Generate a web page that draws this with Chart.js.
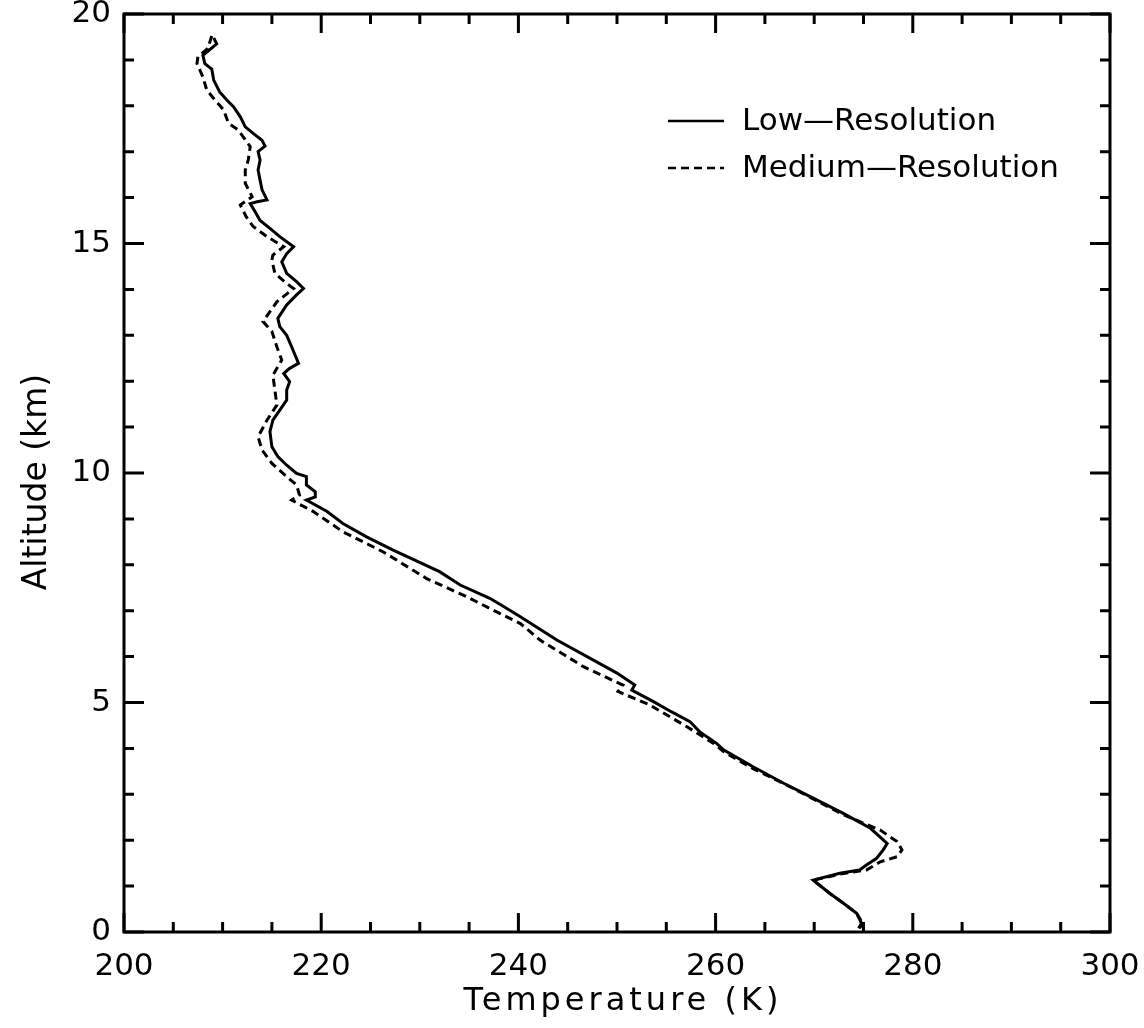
<!DOCTYPE html>
<html>
<head>
<meta charset="utf-8">
<script src="https://cdn.jsdelivr.net/npm/chart.js@4.4.1/dist/chart.umd.min.js"></script>
<style>
  html, body { margin: 0; padding: 0; background: #fff; }
  #wrap { width: 1144px; height: 1028px; }
</style>
</head>
<body>
<div id="wrap"><canvas id="myChart" width="1144" height="1028"></canvas></div>
<script>
// temperature (K) / altitude (km) pairs, top to bottom
const lowTemp = [209.1, 209.4, 208.0, 208.2, 208.9, 209.1, 209.7, 210.4, 211.1, 211.8, 212.3, 213.1, 214.0, 214.3, 213.6, 213.8, 213.6, 213.8, 214.0, 214.5, 213.5, 212.8, 213.3, 213.8, 214.8, 215.8, 217.2, 216.5, 216.0, 216.5, 217.5, 218.2, 217.5, 216.5, 215.6, 215.8, 216.5, 217.0, 217.7, 216.8, 216.2, 216.8, 216.5, 216.5, 215.8, 215.1, 214.8, 215.0, 215.6, 216.5, 217.5, 218.5, 218.5, 219.4, 219.4, 218.5, 220.6, 222.2, 224.6, 227.3, 232.0, 234.1, 237.1, 238.5, 240.2, 243.9, 250.0, 251.8, 251.5, 253.7, 255.5, 257.4, 258.4, 260.1, 260.8, 263.8, 266.9, 269.6, 273.0, 275.7, 277.4, 277.0, 276.3, 275.3, 274.6, 272.6, 269.9, 271.6, 273.0, 274.3, 274.8, 274.5];
const lowAlt = [19.48, 19.35, 19.10, 18.92, 18.80, 18.56, 18.30, 18.13, 17.98, 17.76, 17.54, 17.40, 17.25, 17.12, 17.00, 16.82, 16.60, 16.38, 16.17, 15.95, 15.91, 15.87, 15.69, 15.50, 15.33, 15.15, 14.93, 14.78, 14.60, 14.35, 14.17, 14.02, 13.88, 13.66, 13.37, 13.19, 13.00, 12.75, 12.39, 12.28, 12.17, 11.99, 11.81, 11.59, 11.37, 11.15, 10.90, 10.57, 10.36, 10.17, 9.99, 9.92, 9.74, 9.59, 9.48, 9.41, 9.16, 8.90, 8.61, 8.32, 7.85, 7.56, 7.27, 7.09, 6.87, 6.36, 5.64, 5.38, 5.27, 5.02, 4.80, 4.58, 4.36, 4.11, 3.97, 3.60, 3.24, 2.95, 2.58, 2.26, 1.93, 1.79, 1.60, 1.46, 1.35, 1.28, 1.13, 0.84, 0.62, 0.41, 0.19, 0.08];

const medTemp = [208.9, 208.5, 207.5, 207.4, 208.0, 208.4, 209.1, 210.1, 210.6, 211.6, 212.8, 212.6, 212.3, 212.3, 213.0, 211.8, 212.4, 213.1, 214.5, 216.2, 215.1, 215.0, 215.3, 216.5, 217.2, 215.5, 214.1, 215.0, 215.5, 216.0, 215.1, 215.3, 215.5, 214.5, 213.6, 214.0, 215.0, 216.5, 217.5, 217.8, 217.0, 219.2, 222.2, 226.3, 230.7, 234.8, 238.1, 240.2, 242.2, 246.6, 250.6, 250.1, 253.3, 257.1, 259.8, 260.8, 263.8, 267.5, 273.0, 276.7, 278.4, 278.9, 278.4, 276.7, 275.3, 272.6, 269.9, 271.6, 273.0, 274.3, 274.9, 274.6];
const medAlt = [19.52, 19.25, 19.07, 18.92, 18.63, 18.34, 18.16, 17.91, 17.62, 17.47, 17.11, 16.82, 16.60, 16.31, 16.02, 15.84, 15.58, 15.37, 15.15, 14.93, 14.75, 14.64, 14.35, 14.13, 14.02, 13.73, 13.30, 13.08, 12.75, 12.46, 12.13, 11.81, 11.48, 11.15, 10.79, 10.50, 10.21, 9.92, 9.74, 9.52, 9.41, 9.16, 8.72, 8.28, 7.70, 7.30, 6.94, 6.72, 6.36, 5.78, 5.38, 5.24, 4.95, 4.47, 4.11, 3.93, 3.56, 3.17, 2.55, 2.22, 1.97, 1.79, 1.64, 1.53, 1.35, 1.26, 1.13, 0.84, 0.62, 0.41, 0.19, 0.08];

const seriesNames = ["Low\u2014Resolution", "Medium\u2014Resolution"];
const xTitle = "Temperature (K)";
const yTitle = "Altitude (km)";

const toPoints = (xs, ys) => xs.map((v, i) => ({ x: v, y: ys[i] }));

Chart.defaults.font.family = "'DejaVu Sans', sans-serif";
Chart.defaults.color = "#000";

// box round the plot, inward ticks on all four sides, axis titles and the legend
const frame = {
  id: "frame",
  afterDraw(chart) {
    const { ctx, chartArea: a, scales } = chart;
    const x = scales.x, y = scales.y;
    ctx.save();
    ctx.strokeStyle = "#000";
    ctx.lineWidth = 3;
    ctx.strokeRect(a.left, a.top, a.right - a.left, a.bottom - a.top);
    ctx.beginPath();
    for (let v = x.min; v <= x.max; v += 5) {
      const px = x.getPixelForValue(v);
      const len = v % 20 === 0 ? 19 : 10;
      ctx.moveTo(px, a.bottom); ctx.lineTo(px, a.bottom - len);
      ctx.moveTo(px, a.top); ctx.lineTo(px, a.top + len);
    }
    for (let v = y.min; v <= y.max; v += 1) {
      const py = y.getPixelForValue(v);
      const len = v % 5 === 0 ? 20 : 10;
      ctx.moveTo(a.left, py); ctx.lineTo(a.left + len, py);
      ctx.moveTo(a.right, py); ctx.lineTo(a.right - len, py);
    }
    ctx.stroke();

    ctx.fillStyle = "#000";
    ctx.textAlign = "center";
    ctx.textBaseline = "middle";
    // x title, the original font is quite wide so space it out a bit
    ctx.font = "32px 'DejaVu Sans'";
    if ("letterSpacing" in ctx) ctx.letterSpacing = "4px";
    ctx.fillText(xTitle, 623, 1002);
    if ("letterSpacing" in ctx) ctx.letterSpacing = "0px";
    ctx.save();
    ctx.translate(37, 482);
    ctx.rotate(-Math.PI / 2);
    ctx.font = "33px 'DejaVu Sans'";
    ctx.fillText(yTitle, 0, 0);
    ctx.restore();

    // legend
    ctx.textAlign = "left";
    ctx.font = "31px 'DejaVu Sans'";
    chart.data.datasets.forEach((ds, i) => {
      const ly = 121 + i * 47;
      ctx.beginPath();
      ctx.lineWidth = 2.5;
      ctx.setLineDash(ds.borderDash || []);
      ctx.moveTo(668, ly); ctx.lineTo(724, ly);
      ctx.stroke();
      ctx.setLineDash([]);
      ctx.fillText(ds.label, 742, ly + 1);
    });
    ctx.restore();
  }
};

new Chart(document.getElementById("myChart"), {
  type: "scatter",
  data: {
    datasets: [
      {
        label: seriesNames[0],
        data: toPoints(lowTemp, lowAlt),
        showLine: true,
        borderColor: "#000",
        borderWidth: 3,
        pointRadius: 0,
        tension: 0
      },
      {
        label: seriesNames[1],
        data: toPoints(medTemp, medAlt),
        showLine: true,
        borderColor: "#000",
        borderWidth: 3,
        borderDash: [8, 5],
        pointRadius: 0,
        tension: 0
      }
    ]
  },
  options: {
    responsive: false,
    animation: false,
    layout: { padding: { top: 14, right: 34, bottom: 0, left: 0 } },
    plugins: { legend: { display: false }, tooltip: { enabled: false } },
    scales: {
      x: {
        type: "linear",
        min: 200,
        max: 300,
        grid: { display: false, drawTicks: false },
        border: { display: false },
        ticks: { stepSize: 20, font: { size: 31 }, padding: 16, maxRotation: 0 },
        afterFit(s) { s.height = 96; s.paddingLeft = 0; s.paddingRight = 0; }
      },
      y: {
        type: "linear",
        min: 0,
        max: 20,
        grid: { display: false, drawTicks: false },
        border: { display: false },
        ticks: { stepSize: 5, font: { size: 31 }, padding: 13 },
        afterFit(s) { s.width = 124; s.paddingTop = 0; s.paddingBottom = 0; }
      }
    }
  },
  plugins: [frame]
});
</script>
</body>
</html>
